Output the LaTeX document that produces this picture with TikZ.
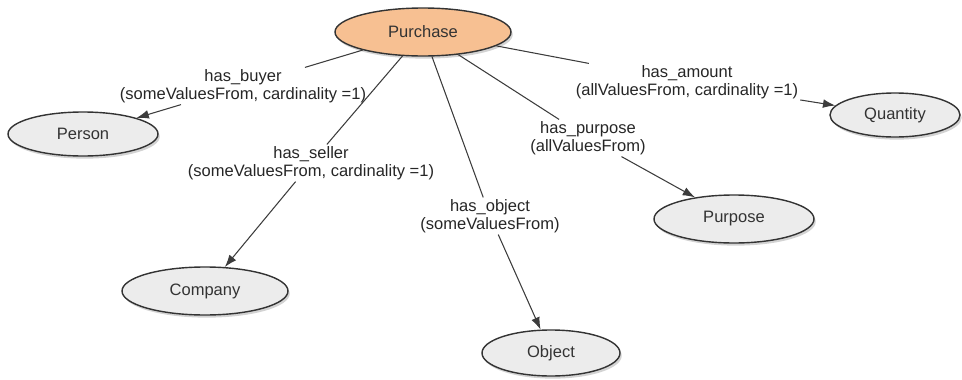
\documentclass[tikz,border=0pt]{standalone}
\usepackage{fontspec}
\setmainfont{Liberation Sans}
\usetikzlibrary{shapes.geometric,shadows,arrows.meta}

\definecolor{classgray}{RGB}{236,236,236}
\definecolor{classpeach}{RGB}{247,192,146}
\definecolor{linkgray}{RGB}{60,60,60}

\begin{document}
\begin{tikzpicture}[
	font=\fontsize{9.4}{10}\selectfont,
	cls/.style={ellipse, draw=black!80, line width=0.8pt, fill=classgray, inner sep=0pt,
		text=black!80, drop shadow={shadow xshift=1pt, shadow yshift=-1.5pt, opacity=0.35}},
	prop/.style={align=center, inner sep=1pt, text=black!85},
	link/.style={draw=linkgray, line width=0.6pt},
	linkto/.style={link, -{Latex[length=7pt,width=5pt]}}
]
	\useasboundingbox (0,0) rectangle (19.24,7.58);

	%draw the classes
	\node[cls, fill=classpeach, minimum width=3.52cm, minimum height=0.96cm] (purchase) at (8.46,6.94) {Purchase};
	\node[cls, minimum width=3.0cm, minimum height=0.88cm] (person) at (1.66,4.90) {Person};
	\node[cls, minimum width=3.32cm, minimum height=0.96cm] (company) at (4.10,1.76) {Company};
	\node[cls, minimum width=2.76cm, minimum height=0.92cm] (object) at (11.02,0.52) {Object};
	\node[cls, minimum width=3.2cm, minimum height=0.96cm] (purpose) at (14.68,3.20) {Purpose};
	\node[cls, minimum width=2.6cm, minimum height=0.88cm] (quantity) at (17.90,5.28) {Quantity};

	%property labels
	\node[prop] (buyer) at (4.86,5.86) {has\_buyer\\(someValuesFrom, cardinality =1)};
	\node[prop] (seller) at (6.22,4.32) {has\_seller\\(someValuesFrom, cardinality =1)};
	\node[prop] (objectp) at (9.80,3.26) {has\_object\\(someValuesFrom)};
	\node[prop] (purposep) at (11.76,4.82) {has\_purpose\\(allValuesFrom)};
	\node[prop] (amount) at (13.74,5.94) {has\_amount\\(allValuesFrom, cardinality =1)};

	%draw the properties
	\draw[link] (purchase) -- (buyer);
	\draw[linkto] (buyer) -- (person);
	\draw[link] (purchase) -- (seller);
	\draw[linkto] (seller) -- (company);
	\draw[link] (purchase) -- (objectp);
	\draw[linkto] (objectp) -- (object);
	\draw[link] (purchase) -- (purposep);
	\draw[linkto] (purposep) -- (purpose);
	\draw[link] (purchase) -- (amount);
	\draw[linkto] (amount) -- (quantity);

\end{tikzpicture}
\end{document}
